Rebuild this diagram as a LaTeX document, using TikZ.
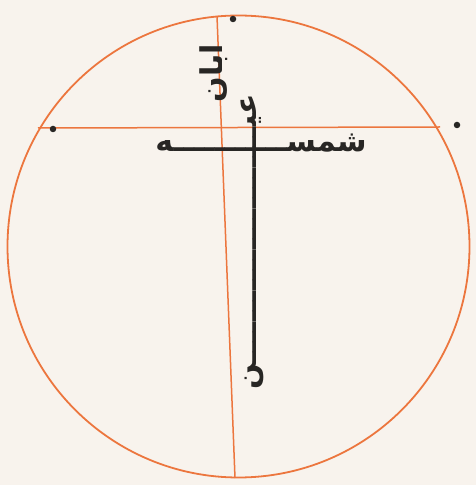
\documentclass[tikz,border=0pt]{standalone}
\usepackage{fontspec}
\newfontfamily\arabicfont[Script=Arabic]{DejaVu Sans}
\TeXXeTstate=1
\usepackage{xcolor}
\definecolor{Paper}{RGB}{248,243,237}
\definecolor{Rim}{RGB}{236,118,62}
\definecolor{Ink}{RGB}{40,38,36}
\usetikzlibrary{positioning}

\begin{document}
\begin{tikzpicture}[x=1pt, y=1pt,
    rim/.style={draw=Rim, line width=1.8pt},
    guide/.style={draw=Rim, line width=1.5pt},
    pin/.style={circle, fill=Ink, inner sep=0pt, minimum size=6.5pt},
    word/.style={text=Ink, inner sep=0pt, anchor=base, font=\arabicfont\bfseries\fontsize{30}{30}\selectfont}
]
    \fill[Paper] (0,0) rectangle (476,485);
    \draw[rim] (238.5,238.5) circle (231);
    % the two guide lines
    \coordinate (west) at (38,357);
    \coordinate (east) at (440,358);
    \coordinate (north) at (217,469);
    \coordinate (south) at (235,7);
    \draw[guide] (west) -- (east);
    \draw[guide] (north) -- (south);
    \node[pin] (wdot) at (53,356) {};
    \node[pin] (edot) at (457,360) {};
    \node[pin] (ndot) at (233,466) {};
    % the words
    \node[word, rotate=90] (aban) at (222,412) {\beginR ابان\endR};
    \node[word] (shams) at (261,333) {\beginR شمســـــــــــه\endR};
    \node[word, rotate=90] (ayn) at (256,243) {\beginR عيـــــــــــــــــــــــن\endR};
\end{tikzpicture}
\end{document}
